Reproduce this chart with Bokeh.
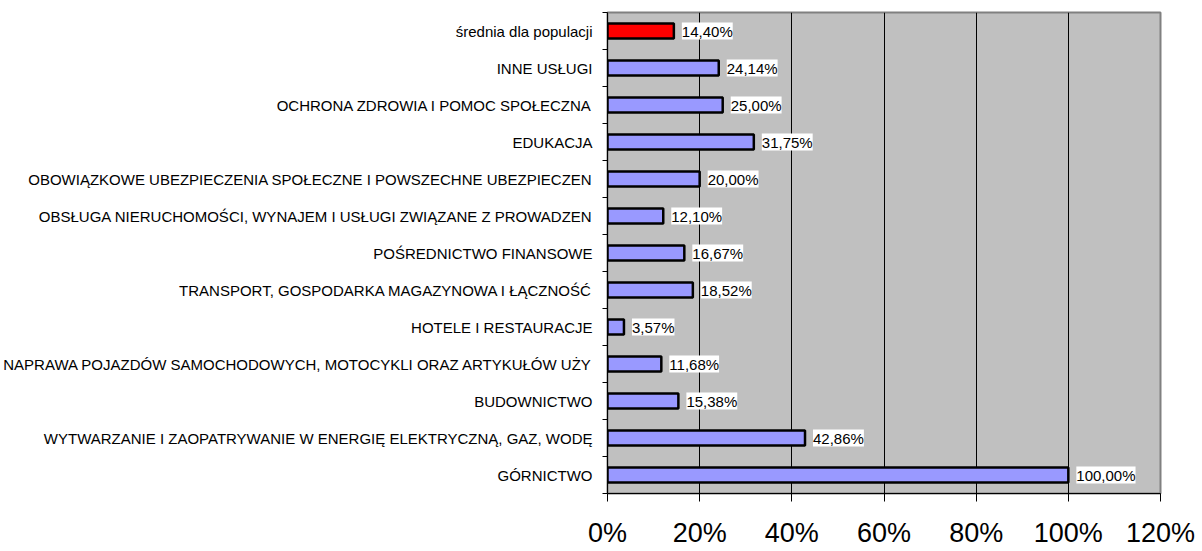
from bokeh.plotting import figure
from bokeh.models import ColumnDataSource, FixedTicker, Range1d, PrintfTickFormatter, LabelSet
from bokeh.core.properties import value
from bokeh.embed import file_html
from bokeh.resources import INLINE

categories = [
    "średnia dla populacji",
    "INNE USŁUGI",
    "OCHRONA ZDROWIA I POMOC SPOŁECZNA",
    "EDUKACJA",
    "OBOWIĄZKOWE UBEZPIECZENIA SPOŁECZNE I POWSZECHNE UBEZPIECZEN",
    "OBSŁUGA NIERUCHOMOŚCI, WYNAJEM I USŁUGI ZWIĄZANE Z PROWADZEN",
    "POŚREDNICTWO FINANSOWE",
    "TRANSPORT, GOSPODARKA MAGAZYNOWA I ŁĄCZNOŚĆ",
    "HOTELE I RESTAURACJE",
    "NAPRAWA POJAZDÓW SAMOCHODOWYCH, MOTOCYKLI ORAZ ARTYKUŁÓW UŻY",
    "BUDOWNICTWO",
    "WYTWARZANIE I ZAOPATRYWANIE W ENERGIĘ ELEKTRYCZNĄ, GAZ, WODĘ",
    "GÓRNICTWO",
]
values = [14.40, 24.14, 25.00, 31.75, 20.00, 12.10, 16.67, 18.52, 3.57, 11.68, 15.38, 42.86, 100.00]
x_ticks = [0, 20, 40, 60, 80, 100, 120]

n = len(categories)
ypos = [n - i - 0.5 for i in range(n)]
colors = ["#FF0000" if c.startswith("średnia") else "#9999FF" for c in categories]
labels = [f"{v:.2f}".replace(".", ",") + "%" for v in values]

src = ColumnDataSource(dict(cat=categories, val=values, y=ypos, color=colors, label=labels))

FONT = "Liberation Sans"

p = figure(frame_width=553, frame_height=481, output_backend="svg", toolbar_location=None,
           x_range=Range1d(0, 120), y_range=Range1d(0, n),
           min_border_left=607, min_border_right=42, min_border_top=12, min_border_bottom=40)
p.background_fill_color = "#C0C0C0"
p.border_fill_color = "white"
p.outline_line_color = "#808080"
p.outline_line_width = 2

p.hbar(y="y", right="val", left=0, height=0.4, fill_color="color",
       line_color="black", line_width=2.5, source=src)

lbl = LabelSet(x="val", y="y", text="label", source=src, x_offset=8,
               text_baseline="middle", text_align="left", text_font=value(FONT),
               text_font_size=value("15px"), text_color="black",
               background_fill_color="white")
p.add_layout(lbl)

# x axis
xt = FixedTicker(ticks=x_ticks, minor_ticks=[])
p.xaxis.ticker = xt
p.xaxis.formatter = PrintfTickFormatter(format="%d%%")
p.xaxis.major_label_text_font = FONT
p.xaxis.major_label_text_font_size = "27px"
p.xaxis.major_label_text_color = "black"
p.xaxis.major_tick_out = 8
p.xaxis.major_tick_in = 0
p.xaxis.major_tick_line_color = "black"
p.xaxis.axis_line_color = "black"
p.xaxis.major_label_standoff = 16

# y axis
yt = FixedTicker(ticks=ypos, minor_ticks=list(range(n + 1)))
p.yaxis.ticker = yt
p.yaxis.major_label_overrides = {y: c for y, c in zip(ypos, categories)}
p.yaxis.major_label_text_font = FONT
p.yaxis.major_label_text_font_size = "15px"
p.yaxis.major_label_text_color = "black"
p.yaxis.major_tick_out = 0
p.yaxis.major_tick_in = 0
p.yaxis.minor_tick_out = 5
p.yaxis.minor_tick_in = 0
p.yaxis.minor_tick_line_color = "black"
p.yaxis.axis_line_color = "black"
p.yaxis.major_label_standoff = 10

p.xgrid.ticker = xt
p.xgrid.grid_line_color = "black"
p.xgrid.grid_line_width = 1
p.ygrid.grid_line_color = None

open("out.html", "w").write(file_html(p, INLINE))
